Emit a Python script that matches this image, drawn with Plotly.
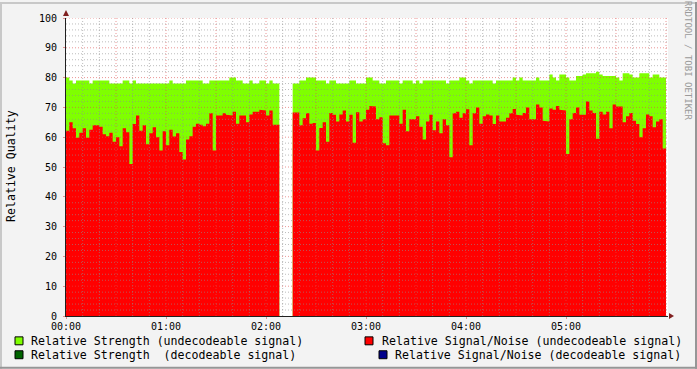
import plotly.graph_objects as go

# ---------------- data ----------------
STEP_MIN = 2  # sample spacing in minutes

# Relative Strength (undecodeable signal) - green area
strength_undecodeable = [
    80, 79, 78, 79, 79, 79, 79, 78, 79, 79,
    79, 79, 79, 78, 78, 78, 78, 79, 79, 78,
    79, 78, 78, 78, 78, 78, 78, 78, 78, 78,
    78, 79, 78, 78, 78, 78, 79, 79, 79, 79,
    79, 78, 78, 79, 79, 79, 79, 79, 79, 80,
    80, 79, 79, 78, 78, 79, 78, 78, 79, 79,
    78, 79, 78, 78, None, None, None, None, 78, 78,
    79, 79, 80, 80, 80, 79, 79, 79, 78, 79,
    79, 78, 78, 78, 78, 79, 79, 78, 78, 78,
    80, 80, 79, 79, 78, 78, 79, 79, 79, 79,
    78, 79, 79, 79, 78, 79, 78, 79, 79, 79,
    79, 79, 79, 79, 78, 79, 79, 79, 80, 80,
    79, 78, 79, 79, 79, 79, 79, 79, 78, 79,
    79, 79, 79, 79, 80, 79, 80, 79, 79, 79,
    79, 80, 79, 79, 79, 81, 80, 79, 81, 81,
    80, 79, 79, 80.5, 80.5, 81, 81.5, 81.5, 81.5, 82,
    81, 80.5, 80.5, 80.5, 80.5, 80, 79, 81.5, 81.5, 81,
    80, 80, 81.5, 81.5, 81.5, 80, 81, 81, 80, 80,
]

# Relative Signal/Noise (undecodeable signal) - red area
snr_undecodeable = [
    62.2, 65, 63, 59.8, 61.5, 63, 59.8, 62.5, 64, 64,
    63.5, 61, 60.3, 61.5, 58.5, 60, 57, 63, 61.7, 51,
    64.4, 67.3, 62.2, 64, 57.6, 61.3, 63.3, 60, 55.5, 62,
    57.3, 62.5, 60.2, 61.3, 55, 52.5, 59.2, 60.3, 63.5, 64.5,
    64.2, 63.7, 64.5, 68, 55.5, 67.3, 67.3, 68, 67.5, 67.3,
    68.5, 64.5, 67.3, 67.3, 65, 67.6, 68.5, 68.5, 69.2, 69,
    67.3, 69, 64.2, 64.2, None, None, None, None, 68.3, 68.3,
    64, 66.4, 68, 64.5, 64.8, 55.5, 63.1, 65, 58.5, 68.1,
    67.5, 65.3, 67.6, 69, 65.3, 67.5, 58.1, 68.4, 65.3, 66,
    69.2, 70.5, 70.3, 66, 66.7, 58, 57.3, 67.3, 67.3, 67.3,
    64.5, 69.2, 62, 66, 66, 67, 63.5, 59.2, 65.3, 67.5,
    62.3, 65.3, 61.3, 66, 64, 53.3, 68, 68.5, 66.5, 68,
    69.4, 57.3, 68, 70, 64.5, 67, 67.6, 67.3, 64.4, 67.3,
    65.3, 65.3, 66.5, 68, 69.5, 67.5, 67.3, 68.1, 70, 66,
    66, 71, 70, 65.5, 65.3, 69.6, 69.2, 70.5, 69.2, 69,
    54.4, 66, 68.1, 70, 67.5, 67.5, 72, 69, 68.1, 59.5,
    68.5, 67.6, 68.5, 63, 71, 70.3, 70.3, 65, 67, 68.1,
    65.5, 64.4, 60, 63, 67.6, 67, 63.3, 65.3, 66, 56.2,
]

tick_minutes = [0, 60, 120, 180, 240, 300]
tick_labels = ["00:00", "01:00", "02:00", "03:00", "04:00", "05:00"]

legend_labels = [
    "Relative Strength (undecodeable signal)",
    "Relative Signal/Noise (undecodeable signal)",
    "Relative Strength  (decodeable signal)",
    "Relative Signal/Noise (decodeable signal)",
]
legend_colors = ["#7FFF00", "#FF0000", "#006400", "#00008B"]

# ---------------- styling ----------------
W, H = 697, 369
L, R, T, B = 66, 668, 16, 316
X_MAX = 361.2
FONT = "DejaVu Sans Mono"
BACK = "#f3f3f3"
GRID = "rgba(143,143,143,0.6)"
MGRID = "rgba(222,79,79,0.6)"
AXIS = "#202020"
ARROW = "#801f1f"

times = [i * STEP_MIN for i in range(len(snr_undecodeable))]


def step_xy(values):
    xs, ys = [], []
    for t, v in zip(times, values):
        h = 0 if v is None else v
        xs += [t, t + STEP_MIN]
        ys += [h, h]
    return xs, ys


def px(x):
    return (x - L) / (R - L)


def py(y):
    return (B - y) / (B - T)


fig = go.Figure()
for vals, col, name in [(strength_undecodeable, legend_colors[0], legend_labels[0]),
                        (snr_undecodeable, legend_colors[1], legend_labels[1])]:
    xs, ys = step_xy(vals)
    fig.add_trace(go.Scatter(x=xs, y=ys, mode="lines", line=dict(width=0, color=col),
                             fill="tozeroy", fillcolor=col, name=name,
                             showlegend=False, hoverinfo="skip"))

shapes = []
# grid above data (rrdtool style)
for m in range(10, int(X_MAX) + 1, 10):
    shapes.append(dict(type="line", xref="x", yref="y", x0=m, x1=m, y0=0, y1=100,
                       layer="above",
                       line=dict(color=MGRID if m % 30 == 0 else GRID, width=1, dash="1px,2px")))
for v in range(2, 101, 2):
    shapes.append(dict(type="line", xref="x", yref="y", x0=0, x1=X_MAX, y0=v, y1=v,
                       layer="above",
                       line=dict(color=MGRID if v % 10 == 0 else GRID, width=1, dash="1px,2px")))
# axis arrows
shapes.append(dict(type="path", xref="paper", yref="paper", xsizemode="pixel", ysizemode="pixel",
                   xanchor=0, yanchor=1, path="M-3,2 L3,2 L0,8 Z",
                   fillcolor=ARROW, line=dict(width=0), layer="above"))
shapes.append(dict(type="path", xref="paper", yref="paper", xsizemode="pixel", ysizemode="pixel",
                   xanchor=1, yanchor=0, path="M1,-3 L1,3 L6,0 Z",
                   fillcolor=ARROW, line=dict(width=0), layer="above"))
# frame bevel
shapes += [
    dict(type="rect", xref="paper", yref="paper", x0=px(0), x1=px(W), y0=py(0), y1=py(2),
         fillcolor="#c8c8c8", line=dict(width=0), layer="below"),
    dict(type="rect", xref="paper", yref="paper", x0=px(0), x1=px(2), y0=py(0), y1=py(H),
         fillcolor="#c8c8c8", line=dict(width=0), layer="below"),
    dict(type="rect", xref="paper", yref="paper", x0=px(0), x1=px(W), y0=py(H - 2), y1=py(H),
         fillcolor="#969696", line=dict(width=0), layer="below"),
    dict(type="rect", xref="paper", yref="paper", x0=px(W - 2), x1=px(W), y0=py(0), y1=py(H),
         fillcolor="#969696", line=dict(width=0), layer="below"),
]

# legend (rrdtool style, two columns)
legend_pos = [  # (box_left, box_top, text_left)
    (15, 337, 29),
    (365, 337, 380),
    (15, 351, 29),
    (379, 351, 393),
]
annotations = []
for lab, col, (bx, by, tx) in zip(legend_labels, legend_colors, legend_pos):
    shapes.append(dict(type="rect", xref="paper", yref="paper",
                       x0=px(bx), x1=px(bx + 8), y0=py(by), y1=py(by + 8),
                       fillcolor=col, line=dict(color="#000000", width=1), layer="above"))
    annotations.append(dict(text=lab, xref="paper", yref="paper", x=px(tx), y=py(by + 4),
                            xanchor="left", yanchor="middle", showarrow=False,
                            font=dict(family=FONT, size=11.6, color="#000000")))

annotations.append(dict(text="Relative Quality", xref="paper", yref="paper",
                        x=px(11), y=py(165), textangle=-90, xanchor="center", yanchor="middle",
                        showarrow=False, font=dict(family=FONT, size=11.6, color="#000000")))
annotations.append(dict(text="RRDTOOL / TOBI OETIKER", xref="paper", yref="paper",
                        x=px(688), y=py(59), textangle=90, xanchor="center", yanchor="middle",
                        showarrow=False, font=dict(family=FONT, size=9, color="#9a9a9a")))

fig.update_layout(
    width=W, height=H,
    margin=dict(l=L, r=W - R, t=T, b=H - B, pad=0),
    paper_bgcolor=BACK, plot_bgcolor="#ffffff",
    showlegend=False,
    shapes=shapes, annotations=annotations,
    xaxis=dict(range=[0, X_MAX], tickvals=tick_minutes, ticktext=tick_labels,
               showgrid=False, zeroline=False, showline=True, linecolor=AXIS, linewidth=1,
               ticks="outside", ticklen=2, tickcolor=MGRID, ticklabelstandoff=-1,
               tickfont=dict(family=FONT, size=10, color="#000000"), layer="above traces"),
    yaxis=dict(range=[0, 100], tickvals=list(range(0, 101, 10)),
               showgrid=False, zeroline=False, showline=True, linecolor=AXIS, linewidth=1,
               ticks="outside", ticklen=2, tickcolor=MGRID, ticklabelstandoff=4,
               tickfont=dict(family=FONT, size=10, color="#000000"), layer="above traces"),
)

fig.write_html("out.html", config={"displayModeBar": False},
               post_script="document.body.style.margin='0';")
